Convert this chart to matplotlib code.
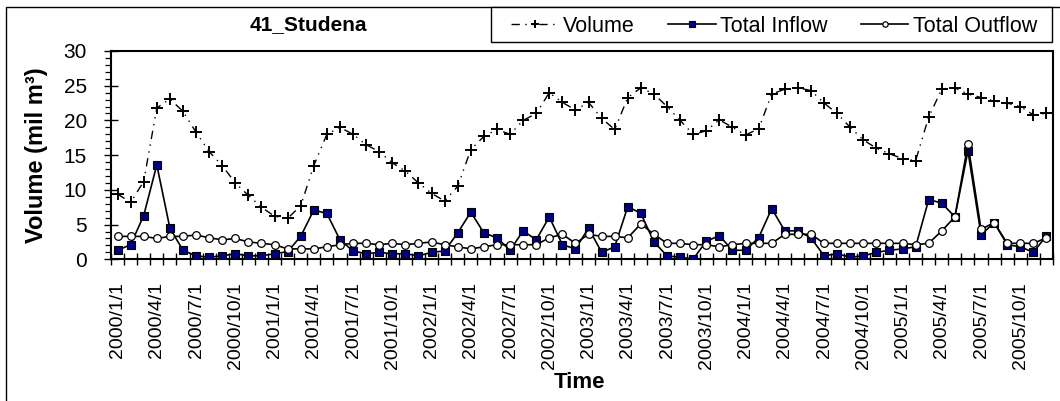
import numpy as np
import matplotlib
matplotlib.use("Agg")
import matplotlib.pyplot as plt
from matplotlib.patches import Rectangle

plt.rcParams['font.family'] = ['Liberation Sans', 'DejaVu Sans']

# ---- data (monthly, 2000/1 .. 2005/12) ----
volume = [9.4, 8.2, 11.2, 21.8, 23.1, 21.3, 18.3, 15.5, 13.5, 11.0, 9.2, 7.5,
          6.2, 5.9, 7.7, 13.5, 18.0, 19.0, 18.0, 16.5, 15.5, 13.9, 12.7, 11.0,
          9.5, 8.4, 10.5, 15.8, 17.7, 18.7, 18.0, 20.0, 21.0, 24.0, 22.6, 21.5,
          22.6, 20.3, 18.7, 23.3, 24.7, 23.8, 22.0, 20.0, 18.0, 18.5, 20.1, 19.0,
          17.9, 18.8, 23.8, 24.5, 24.7, 24.3, 22.5, 21.0, 19.0, 17.2, 16.0, 15.2,
          14.5, 14.2, 20.5, 24.5, 24.7, 23.8, 23.3, 22.8, 22.5, 22.0, 20.8, 21.0]
total_inflow = [1.3, 2.1, 6.3, 13.6, 4.5, 1.3, 0.5, 0.3, 0.5, 0.8, 0.5, 0.5,
                0.8, 1.1, 3.3, 7.1, 6.6, 2.8, 1.2, 0.8, 1.0, 0.8, 0.8, 0.5,
                1.0, 1.2, 3.8, 6.8, 3.8, 3.1, 1.3, 4.1, 2.8, 6.1, 2.1, 1.5,
                4.5, 1.0, 1.8, 7.6, 6.6, 2.5, 0.5, 0.3, 0.05, 2.6, 3.4, 1.3,
                1.3, 3.1, 7.3, 4.1, 4.1, 3.1, 0.5, 0.8, 0.3, 0.5, 1.0, 1.3,
                1.5, 1.8, 8.6, 8.1, 6.1, 15.6, 3.5, 5.3, 2.1, 1.8, 1.0, 3.4]
total_outflow = [3.3, 3.3, 3.3, 3.0, 3.3, 3.3, 3.5, 3.1, 2.8, 3.0, 2.5, 2.3,
                 2.1, 1.5, 1.5, 1.5, 1.8, 2.1, 2.3, 2.3, 2.1, 2.3, 2.1, 2.3,
                 2.5, 2.1, 1.8, 1.5, 1.8, 2.1, 2.1, 2.1, 2.1, 3.1, 3.6, 2.3,
                 3.6, 3.3, 3.3, 3.1, 5.1, 3.6, 2.3, 2.3, 2.1, 2.1, 1.8, 2.1,
                 2.3, 2.3, 2.3, 3.6, 3.6, 3.6, 2.3, 2.3, 2.3, 2.3, 2.3, 2.3,
                 2.3, 2.1, 2.3, 4.1, 6.1, 16.6, 4.3, 5.3, 2.3, 2.3, 2.3, 3.1]
tick_labels = ["2000/1/1", "2000/4/1", "2000/7/1", "2000/10/1",
               "2001/1/1", "2001/4/1", "2001/7/1", "2001/10/1",
               "2002/1/1", "2002/4/1", "2002/7/1", "2002/10/1",
               "2003/1/1", "2003/4/1", "2003/7/1", "2003/10/1",
               "2004/1/1", "2004/4/1", "2004/7/1", "2004/10/1",
               "2005/1/1", "2005/4/1", "2005/7/1", "2005/10/1"]
title = "41_Studena"

W, H = 1060, 401
fig = plt.figure(figsize=(W / 100, H / 100), dpi=100)
L, R, T, B = 111, 1053, 51, 259.3
ax = fig.add_axes([L / W, 1 - B / H, (R - L) / W, (B - T) / H])

x = np.arange(len(volume))
ax.plot(x, volume, color='black', lw=1.0, linestyle=(0, (6, 4, 1, 4, 1, 4)),
        marker='+', ms=8, mew=1.4, mec='black', label='Volume', zorder=3)
ax.plot(x, total_inflow, color='black', lw=1.2, marker='s', ms=5.5,
        mfc='#000080', mec='black', mew=0.8, label='Total Inflow', zorder=4)
ax.plot(x, total_outflow, color='black', lw=1.2, marker='o', ms=5.5,
        mfc='white', mec='black', mew=0.9, label='Total Outflow', zorder=5)

ax.set_xlim(-0.5, len(volume) - 0.5)
ax.set_ylim(0, 30)

# x ticks: marks at category boundaries, labels every 3 months
ax.set_xticks(np.arange(-0.5, len(volume), 1.0))
ax.set_xticklabels([])
ax.set_xticks(np.arange(0, len(volume), 3), minor=True)
ax.set_xticklabels(tick_labels, minor=True, rotation=90, fontsize=14)
ax.tick_params(axis='x', which='major', direction='inout', length=8.5, width=1.0)
ax.tick_params(axis='x', which='minor', length=0, pad=16.3)

ax.set_yticks(np.arange(0, 31, 5))
ax.set_yticks(np.arange(0, 31, 1), minor=True)
ax.tick_params(axis='y', which='major', direction='inout', length=9.6, width=1.0,
               labelsize=15, pad=12.5)
ax.tick_params(axis='y', which='minor', direction='out', length=4.3, width=0.9)

for s in ax.spines.values():
    s.set_linewidth(1.5)
    s.set_color('black')

# outer chart border
fig.add_artist(Rectangle((6 / W, -0.2), 1.2, (H - 7) / H + 0.2,
                         transform=fig.transFigure, fill=False, lw=1.0, ec='black'))
# legend frame
fig.add_artist(Rectangle((491 / W, 1 - 42 / H), 561 / W, 35 / H,
                         transform=fig.transFigure, fill=True, fc='white',
                         lw=1.0, ec='black', zorder=5))

fig.text(308 / W, 1 - 25 / H, title, ha='center', va='center',
         fontsize=15, fontweight='bold')
fig.text(37 / W, 1 - 155 / H, "Volume (mil m³)", rotation=90, ha='center',
         va='center', fontsize=17, fontweight='bold')
fig.text(580 / W, 1 - 383 / H, "Time", ha='center', va='center',
         fontsize=16, fontweight='bold')

handles, labels = ax.get_legend_handles_labels()
leg = fig.legend(handles, labels, loc='center left',
                 bbox_to_anchor=(511 / W, 1 - 44 / H, 526 / W, 35 / H),
                 mode='expand', ncol=3, frameon=False,
                 borderaxespad=0, borderpad=0,
                 handlelength=2.2, handletextpad=0.2, columnspacing=1.5,
                 fontsize=15.5, markerscale=0.7)
leg.set_zorder(6)

fig.savefig("out.png", dpi=100)
